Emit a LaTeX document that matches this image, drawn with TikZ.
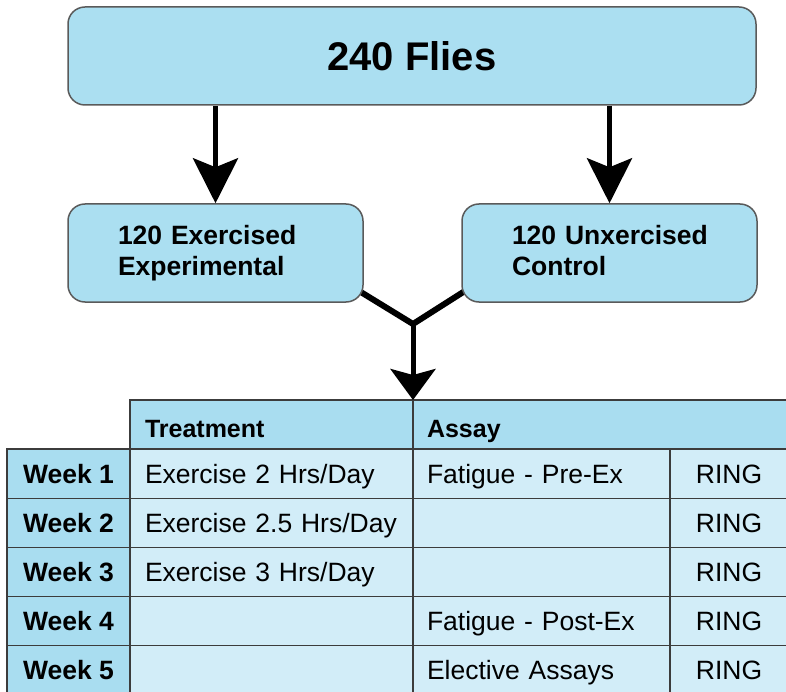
\documentclass[tikz,border=0pt]{standalone}
\usepackage{fontspec}
\setmainfont{Liberation Sans}
\usetikzlibrary{arrows.meta,calc,backgrounds}
\definecolor{boxblue}{HTML}{ABDFF1}
\definecolor{hdrblue}{HTML}{A9DDF0}
\definecolor{cellblue}{HTML}{D2EDF8}
\definecolor{edgegray}{HTML}{5A5A5A}
\definecolor{gridgray}{HTML}{3C3C3C}
\begin{document}
\begin{tikzpicture}[x=1pt,y=-1pt,
  flowbox/.style={draw=edgegray,line width=1.5pt,fill=boxblue,rounded corners=17pt,minimum height=98pt},
  midtext/.style={font=\bfseries\fontsize{26.5}{31}\selectfont,text width=195pt,inner xsep=50pt,align=left},
  cell/.style={draw=gridgray,line width=1.2pt,anchor=north west,minimum height=49.2pt,inner sep=0pt,outer sep=0pt,text height=19pt,text depth=0pt,font=\fontsize{26.5}{30}\selectfont},
  weekcell/.style={cell,fill=hdrblue,minimum width=123pt,font=\bfseries\fontsize{26.5}{30}\selectfont},
  hdrcell/.style={cell,fill=hdrblue,minimum height=49pt,align=left,text height=25pt,font=\bfseries\fontsize{25}{30}\selectfont},
  trcell/.style={cell,fill=cellblue,minimum width=283pt,text width=253pt,inner xsep=15pt,align=left},
  ascell/.style={cell,fill=cellblue,minimum width=257pt,text width=229pt,inner xsep=14pt,align=left},
  ringcell/.style={cell,fill=cellblue,minimum width=118pt},
  bigarrow/.style={line width=5pt,-{Stealth[length=45pt,width=45pt,inset=9pt]}},
  midarrow/.style={line width=5pt,-{Stealth[length=31pt,width=45pt,inset=6pt]}}
]
\useasboundingbox (0,0) rectangle (786,692);

% flow boxes
\node[flowbox,minimum width=688pt,font=\bfseries\fontsize{40}{42}\selectfont] (top) at (412,56) {240 Flies};
\node[flowbox,minimum width=295pt,midtext] (exp) at (215.5,253) {\mbox{120 Exercised}\\\mbox{Experimental}};
\node[flowbox,minimum width=293pt,midtext] (ctl) at (609.5,253) {\mbox{120 Unxercised}\\\mbox{Control\vphantom{p}}};

% arrows from top
\draw[bigarrow] (top.south -| exp.north) -- (exp.north);
\draw[bigarrow] (top.south -| ctl.north) -- (ctl.north);

% table header
\node[hdrcell,minimum width=283pt,text width=253pt,inner xsep=15pt] (thdr) at (130,400) {Treatment};
\node[hdrcell,minimum width=375pt,text width=347pt,inner xsep=14pt] (ahdr) at (413,400) {Assay};

% rows
\node[weekcell] (w1) at (7,449) {Week 1};
\node[weekcell] (w2) at (7,498.2) {Week 2};
\node[weekcell] (w3) at (7,547.4) {Week 3};
\node[weekcell] (w4) at (7,596.6) {Week 4};
\node[weekcell] (w5) at (7,645.8) {Week 5};

\node[trcell] (t1) at (130,449) {Exercise 2 Hrs/Day};
\node[trcell] (t2) at (130,498.2) {Exercise 2.5 Hrs/Day};
\node[trcell] (t3) at (130,547.4) {Exercise 3 Hrs/Day};
\node[trcell] (t4) at (130,596.6) {};
\node[trcell] (t5) at (130,645.8) {};

\node[ascell] (a1) at (413,449) {Fatigue - Pre-Ex};
\node[ascell] (a2) at (413,498.2) {};
\node[ascell] (a3) at (413,547.4) {};
\node[ascell] (a4) at (413,596.6) {Fatigue - Post-Ex};
\node[ascell] (a5) at (413,645.8) {Elective Assays};

\node[ringcell] (r1) at (670,449) {RING};
\node[ringcell] (r2) at (670,498.2) {RING};
\node[ringcell] (r3) at (670,547.4) {RING};
\node[ringcell] (r4) at (670,596.6) {RING};
\node[ringcell] (r5) at (670,645.8) {RING};

% merging connector
\coordinate (J) at (413,324);
\begin{scope}[on background layer]
\draw[line width=6pt,line join=round] ([shift={(-5,-12)}]exp.south east) -- (J) -- ([shift={(4,-12)}]ctl.south west);
\end{scope}
\draw[midarrow] (J) -- (ahdr.north west);
\end{tikzpicture}
\end{document}
